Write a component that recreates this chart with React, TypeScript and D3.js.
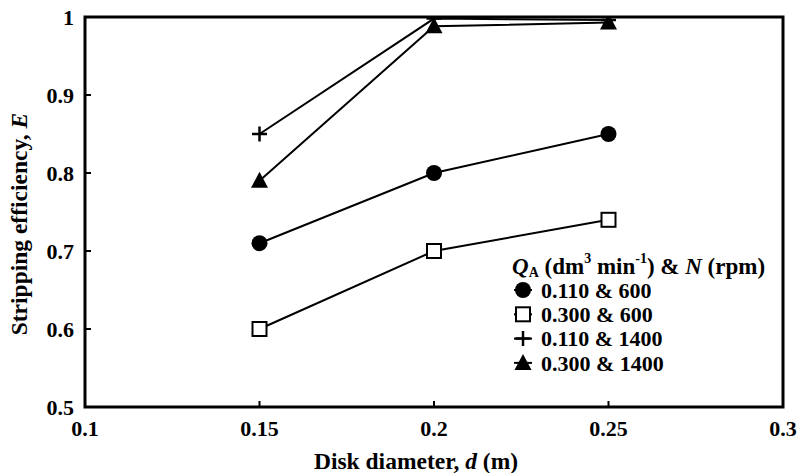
import React from "react";
import * as d3 from "d3";

const diameters = [0.15, 0.2, 0.25];
const eff_0110_600 = [0.71, 0.8, 0.85];
const eff_0300_600 = [0.6, 0.7, 0.74];
const eff_0110_1400 = [0.85, 0.998, 0.996];
const eff_0300_1400 = [0.79, 0.988, 0.993];
const seriesLabels = ["0.110 & 600", "0.300 & 600", "0.110 & 1400", "0.300 & 1400"];
const seriesSymbols = ["circle", "square", "plus", "triangle"];
const xTicks = [0.1, 0.15, 0.2, 0.25, 0.3];
const yTicks = [0.5, 0.6, 0.7, 0.8, 0.9, 1];

const W = 803, H = 473;
const L = 85, R = 783, T = 17, B = 407;
const font = "'Liberation Serif', 'Times New Roman', serif";

function Marker({ type, x, y }: { type: string; x: number; y: number }) {
  if (type === "circle") return <circle cx={x} cy={y} r={8} fill="#000" />;
  if (type === "square") return <rect x={x - 7} y={y - 7} width={14} height={14} fill="#fff" stroke="#000" strokeWidth={2} />;
  if (type === "plus") return <path d={`M${x - 7.5},${y}H${x + 7.5}M${x},${y - 7.5}V${y + 7.5}`} stroke="#000" strokeWidth={2.5} />;
  return <path d={`M${x},${y - 9}L${x + 8.5},${y + 7}L${x - 8.5},${y + 7}Z`} fill="#000" />;
}

export default function App() {
  const x = d3.scaleLinear().domain([0.1, 0.3]).range([L, R]);
  const y = d3.scaleLinear().domain([0.5, 1]).range([B, T]);
  const all = [eff_0110_600, eff_0300_600, eff_0110_1400, eff_0300_1400];
  const line = d3.line<number>().x((_, i) => x(diameters[i])).y((v) => y(v));
  const legX = 523, legY0 = 290, legDy = 24.3;
  return (
    <svg width={W} height={H} style={{ position: "absolute", left: 0, top: 0, background: "#fff" }} fontFamily={font}>
      <defs>
        <clipPath id="plot">
          <rect x={L} y={T} width={R - L} height={B - T} />
        </clipPath>
      </defs>
      <rect x={0} y={0} width={W} height={H} fill="#fff" />
      <g clipPath="url(#plot)">
        {all.map((s, k) => (
          <path key={"l" + k} d={line(s) || ""} fill="none" stroke="#000" strokeWidth={2} />
        ))}
        {all.map((s, k) =>
          s.map((v, i) => <Marker key={"m" + k + i} type={seriesSymbols[k]} x={x(diameters[i])} y={y(v)} />)
        )}
      </g>
      <rect x={L} y={T} width={R - L} height={B - T} fill="none" stroke="#000" strokeWidth={3} />
      {yTicks.map((t) => (
        <g key={"y" + t}>
          <line x1={L} x2={L + 6} y1={y(t)} y2={y(t)} stroke="#000" strokeWidth={2} />
          <text x={74} y={y(t)} dy="0.35em" textAnchor="end" fontSize={22} fontWeight="bold">{t === 1 ? "1" : t.toFixed(1)}</text>
        </g>
      ))}
      {xTicks.map((t) => (
        <g key={"x" + t}>
          <line x1={x(t)} x2={x(t)} y1={B} y2={B - 6} stroke="#000" strokeWidth={2} />
          <text x={x(t)} y={436} textAnchor="middle" fontSize={22} fontWeight="bold">{String(t)}</text>
        </g>
      ))}
      <text x={416} y={469} textAnchor="middle" fontSize={23.5} fontWeight="bold">
        Disk diameter, <tspan fontStyle="italic">d</tspan> (m)
      </text>
      <text transform={`translate(27,224) rotate(-90)`} textAnchor="middle" fontSize={23.5} fontWeight="bold">
        Stripping efficiency, <tspan fontStyle="italic">E</tspan>
      </text>
      <text x={512} y={274} fontSize={23} fontWeight="bold">
        <tspan fontStyle="italic">Q</tspan><tspan fontSize={14} dy={3}>A</tspan>
        <tspan dy={-3}> (dm</tspan><tspan fontSize={14} dy={-11}>3</tspan>
        <tspan dy={11}> min</tspan><tspan fontSize={14} dy={-11}>-1</tspan>
        <tspan dy={11}>) &amp; </tspan><tspan fontStyle="italic">N</tspan><tspan> (rpm)</tspan>
      </text>
      {seriesLabels.map((lab, k) => {
        const yy = legY0 + k * legDy;
        return (
          <g key={"lg" + k}>
            <line x1={legX - 9} x2={legX + 9} y1={yy} y2={yy} stroke="#000" strokeWidth={2} />
            <Marker type={seriesSymbols[k]} x={legX} y={yy} />
            <text x={legX + 18} y={yy} dy="0.35em" fontSize={22} fontWeight="bold">{lab}</text>
          </g>
        );
      })}
    </svg>
  );
}
